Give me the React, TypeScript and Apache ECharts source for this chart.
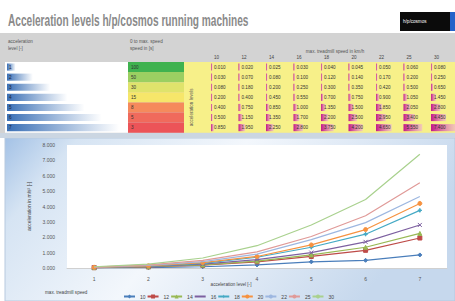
import React, { useEffect, useRef } from "react";
import * as echarts from "echarts";

const title = "Acceleration levels h/p/cosmos running machines";
const levels = ["1", "2", "3", "4", "5", "6", "7"];
const speeds = ["10", "12", "14", "16", "18", "20", "22", "25", "30"];
const timeToSpeed = ["100", "50", "30", "15", "8", "5", "3"];
const levelColors = ["#3fb24f", "#9bcf62", "#dfe36c", "#f6e66a", "#f58a5c", "#f06a5c", "#ec5458"];

const s10 = [0.01, 0.03, 0.08, 0.2, 0.4, 0.5, 0.85];
const s12 = [0.02, 0.07, 0.18, 0.4, 0.75, 1.15, 1.95];
const s14 = [0.025, 0.08, 0.2, 0.45, 0.85, 1.35, 2.25];
const s16 = [0.03, 0.1, 0.25, 0.55, 1.0, 1.7, 2.8];
const s18 = [0.04, 0.12, 0.3, 0.7, 1.35, 2.2, 3.75];
const s20 = [0.045, 0.14, 0.35, 0.75, 1.5, 2.5, 4.2];
const s22 = [0.05, 0.17, 0.42, 0.9, 1.85, 2.95, 4.65];
const s25 = [0.06, 0.2, 0.5, 1.05, 2.05, 3.4, 5.55];
const s30 = [0.08, 0.25, 0.65, 1.45, 2.8, 4.45, 7.4];
const seriesData = [s10, s12, s14, s16, s18, s20, s22, s25, s30];

const lineColors = ["#4a7ebb", "#be4b48", "#98b954", "#7d60a0", "#46aac5", "#f69240", "#9db7e0", "#e09a98", "#a9d18e"];
const symbols = ["diamond", "rect", "triangle", "path://M0,0L10,10M10,0L0,10", "path://M5,0L6.5,3.5L10,5L6.5,6.5L5,10L3.5,6.5L0,5L3.5,3.5Z", "circle", "none", "none", "none"];

export default function App() {
  const ref = useRef<HTMLDivElement>(null);
  useEffect(() => {
    if (!ref.current) return;
    const chart = echarts.init(ref.current, undefined, { renderer: "svg" });
    const small = '4.6px "Liberation Sans"';
    const g: any[] = [];
    g.push({ type: "rect", shape: { x: 0, y: 0, width: 455, height: 33 }, style: { fill: "#ffffff" }, z: -10 });
    g.push({ type: "rect", shape: { x: 0, y: 33, width: 455, height: 105 }, style: { fill: "#d3d3d3" }, z: -10 });
    g.push({
      type: "text", x: 8, y: 12, scaleX: 0.92, scaleY: 1.5,
      style: { text: title, font: 'bold 11px "Liberation Sans"', fill: "#8a8a8a", textVerticalAlign: "top" },
    });
    g.push({ type: "rect", shape: { x: 400, y: 12, width: 50, height: 19 }, style: { fill: "#0b0b0b" } });
    g.push({ type: "rect", shape: { x: 450, y: 12, width: 5, height: 19 }, style: { fill: "#2463c9" } });
    g.push({ type: "text", x: 403, y: 21.5, style: { text: "h/p/cosmos", font: small, fill: "#fff", textVerticalAlign: "middle" } });
    g.push({ type: "text", x: 8, y: 38, style: { text: "acceleration\nlevel [-]", font: small, fill: "#555", lineHeight: 7 } });
    g.push({ type: "text", x: 130, y: 38, style: { text: "0 to max. speed\nspeed in [s]", font: small, fill: "#555", lineHeight: 7 } });
    g.push({ type: "text", x: 335, y: 49, style: { text: "max. treadmill speed in km/h", font: small, fill: "#555", textAlign: "center" } });

    const rowTop = 62;
    const rowH = 10.1;
    const colX0 = 211;
    const colW = 27.5;
    let maxVal = 0;
    seriesData.forEach((s) => s.forEach((v) => { if (v > maxVal) maxVal = v; }));
    g.push({ type: "rect", shape: { x: 5, y: rowTop, width: 123, height: rowH * 7 }, style: { fill: "#ffffff" } });
    g.push({ type: "rect", shape: { x: 184, y: rowTop, width: 271, height: rowH * 7 }, style: { fill: "#f7f089" } });
    speeds.forEach((sp, j) => {
      g.push({ type: "text", x: colX0 + j * colW + 3, y: 55, style: { text: sp, font: small, fill: "#444" } });
    });
    levels.forEach((lv, i) => {
      const y = rowTop + i * rowH;
      const lvNum = Number(lv);
      g.push({
        type: "rect", shape: { x: 7, y: y + 1.5, width: (112 * (lvNum - 0.5)) / 6.5, height: rowH - 3 },
        style: { fill: new echarts.graphic.LinearGradient(0, 0, 1, 0, [{ offset: 0, color: "#3a6fb5" }, { offset: 1, color: "#ffffff" }]) },
      });
      g.push({ type: "text", x: 9, y: y + rowH / 2, style: { text: lv, font: small, fill: "#223", textVerticalAlign: "middle" } });
      g.push({ type: "rect", shape: { x: 128, y, width: 56, height: rowH }, style: { fill: levelColors[i] } });
      g.push({ type: "text", x: 131, y: y + rowH / 2, style: { text: timeToSpeed[i], font: small, fill: "#333", textVerticalAlign: "middle" } });
      seriesData.forEach((s, j) => {
        const v = s[i];
        const x = colX0 + j * colW;
        g.push({
          type: "rect", shape: { x, y: y + 1.5, width: Math.max(1.5, (v / maxVal) * 25), height: rowH - 3 },
          style: { fill: new echarts.graphic.LinearGradient(0, 0, 1, 0, [{ offset: 0, color: "#c2168a" }, { offset: 1, color: "rgba(240,180,210,0.6)" }]) },
        });
        g.push({ type: "text", x: x + 3, y: y + rowH / 2, style: { text: v.toFixed(3), font: small, fill: "#333", textVerticalAlign: "middle" } });
      });
    });
    g.push({
      type: "text", x: 191, y: rowTop + rowH * 4.5, rotation: Math.PI / 2,
      style: { text: "acceleration levels", font: small, fill: "#555", textAlign: "center", textVerticalAlign: "middle" },
    });
    g.push({ type: "rect", shape: { x: 0, y: 133, width: 455, height: 5 }, style: { fill: "#cbd6e2" } });
    g.push({
      type: "rect", shape: { x: 5, y: 138, width: 450, height: 163 }, z: -5,
      style: {
        fill: new echarts.graphic.LinearGradient(0, 0, 1, 0.3, [
          { offset: 0, color: "#a4c2e6" }, { offset: 0.15, color: "#d6e4f3" }, { offset: 0.5, color: "#f3f7fc" }, { offset: 1, color: "#c6d8ed" },
        ]),
        stroke: "#b7c9de", lineWidth: 1,
      },
    });
    g.push({ type: "text", x: 45, y: 292, style: { text: "max. treadmill speed", font: small, fill: "#444", textVerticalAlign: "middle" } });
    g.push({ type: "text", x: 231, y: 284, style: { text: "acceleration level [-]", font: small, fill: "#444", textAlign: "center", textVerticalAlign: "middle" } });

    chart.setOption({
      animation: false,
      backgroundColor: "#ffffff",
      graphic: { elements: g.map((e) => ({ ...e, z: e.z ?? 0, zlevel: 0 })) },
      grid: { left: 67, right: 8, top: 145, bottom: 33, show: true, backgroundColor: "#ffffff", borderWidth: 0 },
      xAxis: {
        type: "category", data: levels, boundaryGap: true,
        axisLine: { show: true, lineStyle: { color: "#d0d0d0" } }, axisTick: { show: false },
        axisLabel: { fontSize: 5, color: "#555", margin: 8, fontFamily: "Liberation Sans" },
      },
      yAxis: {
        type: "value", min: 0, max: 8, interval: 1,
        name: "acceleration in m/s² [-]", nameLocation: "middle", nameGap: 33, nameRotate: 90,
        nameTextStyle: { fontSize: 5, color: "#444", fontFamily: "Liberation Sans" },
        axisLine: { show: false }, axisTick: { show: false }, splitLine: { show: false },
        axisLabel: { fontSize: 5, color: "#555", margin: 12, formatter: (v: number) => v.toFixed(3), fontFamily: "Liberation Sans" },
      },
      legend: {
        left: 118, top: 289, itemWidth: 11, itemHeight: 5, itemGap: 1,
        textStyle: { fontSize: 5, color: "#444", fontFamily: "Liberation Sans" },
        data: speeds,
      },
      series: seriesData.map((d, k) => ({
        name: speeds[k], type: "line", data: d,
        symbol: symbols[k], symbolSize: 4, showSymbol: symbols[k] !== "none",
        lineStyle: { color: lineColors[k], width: 1.2 },
        itemStyle: { color: lineColors[k], borderColor: lineColors[k] },
        z: 3 + k,
      })),
    });
    return () => chart.dispose();
  }, []);
  return <div ref={ref} style={{ position: "absolute", left: 0, top: 0, width: 455, height: 301 }} />;
}
